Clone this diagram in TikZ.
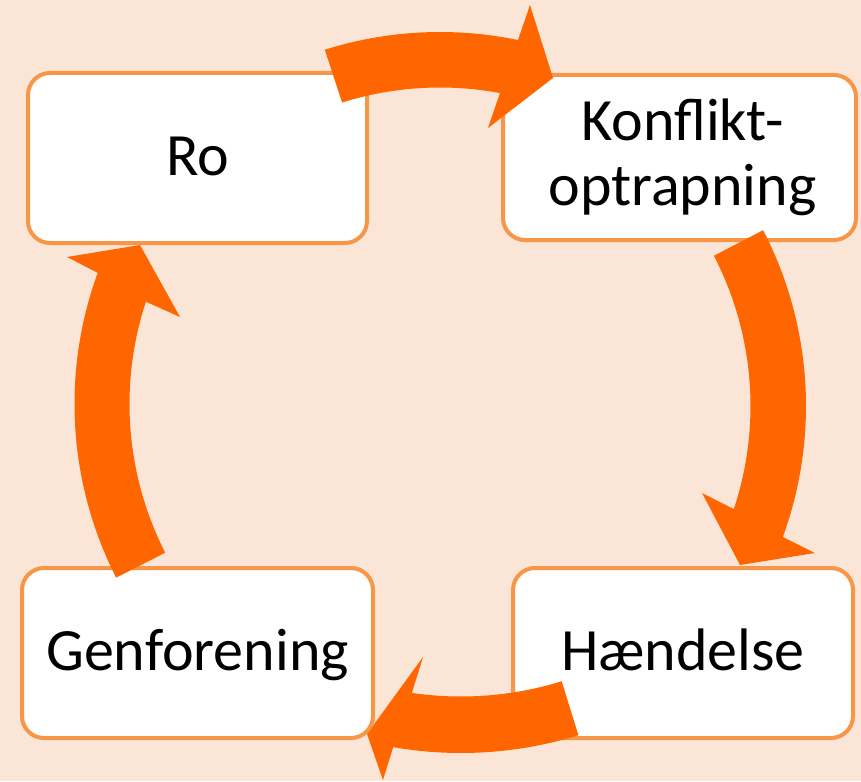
\documentclass[tikz,border=0pt]{standalone}
\usepackage{fontspec}
\setmainfont{Carlito}
\usetikzlibrary{calc}
\definecolor{bgpeach}{HTML}{FBE5D6}
\definecolor{arroworange}{HTML}{FF6600}
\definecolor{boxline}{HTML}{F79646}
\begin{document}
\begin{tikzpicture}[x=1pt,y=1pt,
  cyclebox/.style={draw=boxline, line width=4pt, fill=white, rounded corners=22pt,
    inner sep=0pt, font=\fontsize{60}{65}\selectfont, align=center},
  oneline/.style={text height=35pt, text depth=0pt},
  cyclearrow/.style={fill=arroworange, draw=none}]
\fill[bgpeach] (0,0) rectangle (861,-781);
\useasboundingbox (0,0) rectangle (861,-781);
% centres of the circular arrows
\coordinate (ctop) at (440,-415);
\coordinate (cright) at (424,-406);
\coordinate (cbot) at (461,-356);
\coordinate (cleft) at (457,-404);
% boxes
\node[cyclebox, oneline, minimum width=339pt, minimum height=170pt] (ro) at (197.5,-158) {Ro};
\node[cyclebox, minimum width=353pt, minimum height=165pt] (kon) at (679.5,-157.5) {\hspace*{6pt}Konflikt-\\\hspace*{6pt}optrapning};
\node[cyclebox, oneline, minimum width=340pt, minimum height=170pt] (hae) at (683,-653) {Hændelse};
% arrow Ro -> Konfliktoptrapning
\fill[cyclearrow] ($(ctop)+(107.5:383)$) arc[start angle=107.5, end angle=78.25, radius=383]
  -- (530,-5) -- (553,-78) -- (488,-128)
  -- ($(ctop)+(79.45:327.5)$) arc[start angle=79.45, end angle=107.4, radius=327.5] -- cycle;
% arrow Konfliktoptrapning -> Haendelse
\fill[cyclearrow] ($(cright)+(27.4:382)$) arc[start angle=27.4, end angle=-20.05, radius=382]
  -- (815,-553) -- (740,-565) -- (702,-493)
  -- ($(cright)+(-18.4:326.5)$) arc[start angle=-18.4, end angle=27.4, radius=326.5] -- cycle;
% arrow Haendelse -> Genforening
\fill[cyclearrow] ($(cbot)+(-72.8:397)$) arc[start angle=-72.8, end angle=-99.84, radius=397]
  -- (383,-780) -- (367,-734) -- (423,-657)
  -- ($(cbot)+(-98.3:340.5)$) arc[start angle=-98.3, end angle=-72.8, radius=340.5] -- cycle;
\node[cyclebox, oneline, minimum width=351pt, minimum height=170pt] (gen) at (197.5,-653) {Genforening};
% arrow Genforening -> Ro
\fill[cyclearrow] ($(cleft)+(207:382.5)$) arc[start angle=207, end angle=159.95, radius=382.5]
  -- (67,-257) -- (140,-245) -- (180,-317)
  -- ($(cleft)+(161.8:327.5)$) arc[start angle=161.8, end angle=207, radius=327.5] -- cycle;
\end{tikzpicture}
\end{document}
